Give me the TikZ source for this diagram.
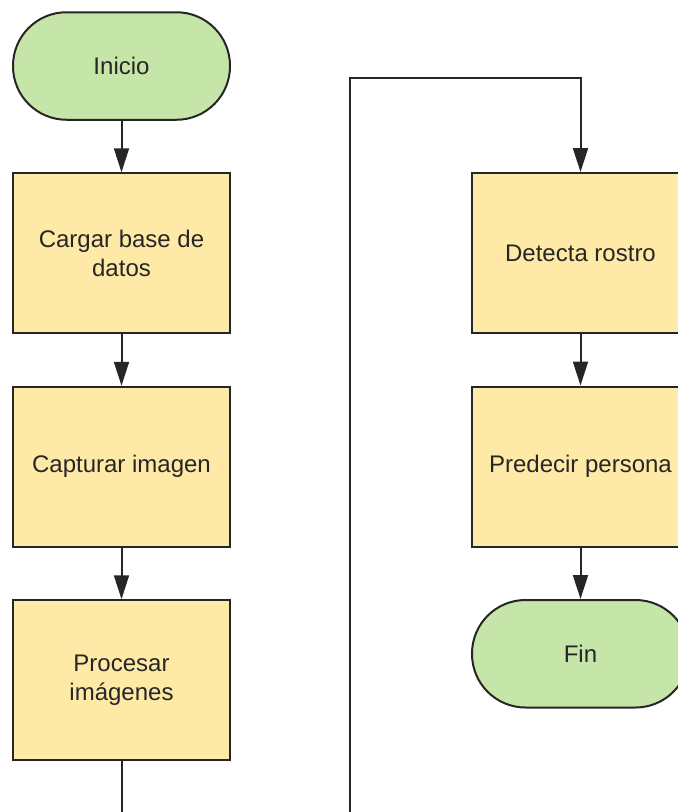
\documentclass[tikz,border=0pt]{standalone}
\usepackage{fontspec}
\setmainfont{Liberation Sans}
\usepackage{xcolor}
\usepackage{tikz}
\usetikzlibrary{arrows.meta,positioning}

\definecolor{verdeini}{HTML}{C5E6A8}
\definecolor{amarillo}{HTML}{FFE9A6}

\begin{document}
\begin{tikzpicture}[
node distance=51.5pt,
proceso/.style={draw=black!85, line width=2pt, fill=amarillo, align=center, minimum width=217pt, minimum height=160pt, inner sep=4pt, text=black!85, font=\fontsize{24}{28.5}\selectfont},
terminal/.style={draw=black!85, line width=2pt, fill=verdeini, rounded corners=53.5pt, minimum width=217pt, minimum height=107.5pt, text=black!85, font=\fontsize{24}{28.5}\selectfont},
flecha/.style={draw=black!85, line width=2pt, -{Triangle[length=24pt, width=15pt]}}
]
\useasboundingbox (0,0) rectangle (678pt,-812pt);
\clip (0,0) rectangle (678pt,-812pt);
\node[terminal] (inicio) at (121.5pt,-66pt) {Inicio};
\node[proceso, below=of inicio] (cargar) {Cargar base de\\datos};
\node[proceso, below=of cargar] (capturar) {Capturar imagen};
\node[proceso, below=of capturar] (procesar) {Procesar\\imágenes};
\node[proceso] (detecta) at (580.5pt,-253pt) {Detecta rostro};
\node[proceso, below=of detecta] (predecir) {Predecir persona};
\node[terminal, below=of predecir] (fin) {Fin};
\draw[flecha] (inicio) -- (cargar);
\draw[flecha] (cargar) -- (capturar);
\draw[flecha] (capturar) -- (procesar);
\draw[flecha] (procesar.south) -- ++(0,-70pt) -| (350pt,-78pt) -| (detecta.north);
\draw[flecha] (detecta) -- (predecir);
\draw[flecha] (predecir) -- (fin);
\end{tikzpicture}
\end{document}
